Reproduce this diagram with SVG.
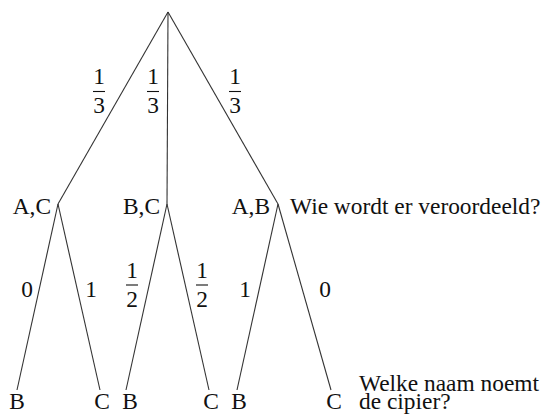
<svg xmlns="http://www.w3.org/2000/svg" width="546" height="414" viewBox="0 0 546 414" font-family="'Liberation Serif', 'DejaVu Serif', serif" font-size="23.4">
<style>
text{fill:#111}
.m{text-anchor:middle}
line{stroke:#333;stroke-width:1.1}
.bar{stroke:#111;stroke-width:1.1}
</style>
<rect width="546" height="414" fill="#fff"/>
<g id="connectors">
<line x1="168" y1="12" x2="58" y2="204"/>
<line x1="168" y1="12" x2="167" y2="204"/>
<line x1="168" y1="12" x2="278" y2="204"/>
<line x1="58" y1="204" x2="17" y2="390"/>
<line x1="58" y1="204" x2="100" y2="390"/>
<line x1="167" y1="204" x2="126" y2="390"/>
<line x1="167" y1="204" x2="209" y2="390"/>
<line x1="278" y1="204" x2="237" y2="390"/>
<line x1="278" y1="204" x2="331" y2="390"/>
</g>
<g id="edge-labels">
<g id="p-ac"><text class="m" x="99" y="83.5">1</text><line class="bar" x1="93" y1="91.5" x2="105" y2="91.5"/><text class="m" x="99" y="112.5">3</text></g>
<g id="p-bc"><text class="m" x="153" y="83.5">1</text><line class="bar" x1="147" y1="91.5" x2="159" y2="91.5"/><text class="m" x="153" y="112.5">3</text></g>
<g id="p-ab"><text class="m" x="235" y="83.5">1</text><line class="bar" x1="229" y1="91.5" x2="241" y2="91.5"/><text class="m" x="235" y="112.5">3</text></g>
<text class="m" x="27" y="297">0</text>
<text class="m" x="91" y="297">1</text>
<g id="p-bc-b"><text class="m" x="132" y="277.5">1</text><line class="bar" x1="126" y1="285" x2="138" y2="285"/><text class="m" x="132" y="307">2</text></g>
<g id="p-bc-c"><text class="m" x="202" y="277.5">1</text><line class="bar" x1="196" y1="285" x2="208" y2="285"/><text class="m" x="202" y="307">2</text></g>
<text class="m" x="245" y="297">1</text>
<text class="m" x="325" y="297">0</text>
</g>
<g id="n-ac"><text x="51" y="214" text-anchor="end">A,C</text></g>
<g id="n-bc"><text x="160" y="214" text-anchor="end">B,C</text></g>
<g id="n-ab"><text x="270" y="214" text-anchor="end">A,B</text></g>
<g id="q1"><text x="290" y="214">Wie wordt er veroordeeld?</text></g>
<g id="l1"><text class="m" x="17" y="409">B</text></g>
<g id="l2"><text class="m" x="102" y="409">C</text></g>
<g id="l3"><text class="m" x="130" y="409">B</text></g>
<g id="l4"><text class="m" x="211" y="409">C</text></g>
<g id="l5"><text class="m" x="239" y="409">B</text></g>
<g id="l6"><text class="m" x="334" y="409">C</text></g>
<g id="q2"><text x="359" y="391">Welke naam noemt</text><text x="359" y="409">de cipier?</text></g>
</svg>
